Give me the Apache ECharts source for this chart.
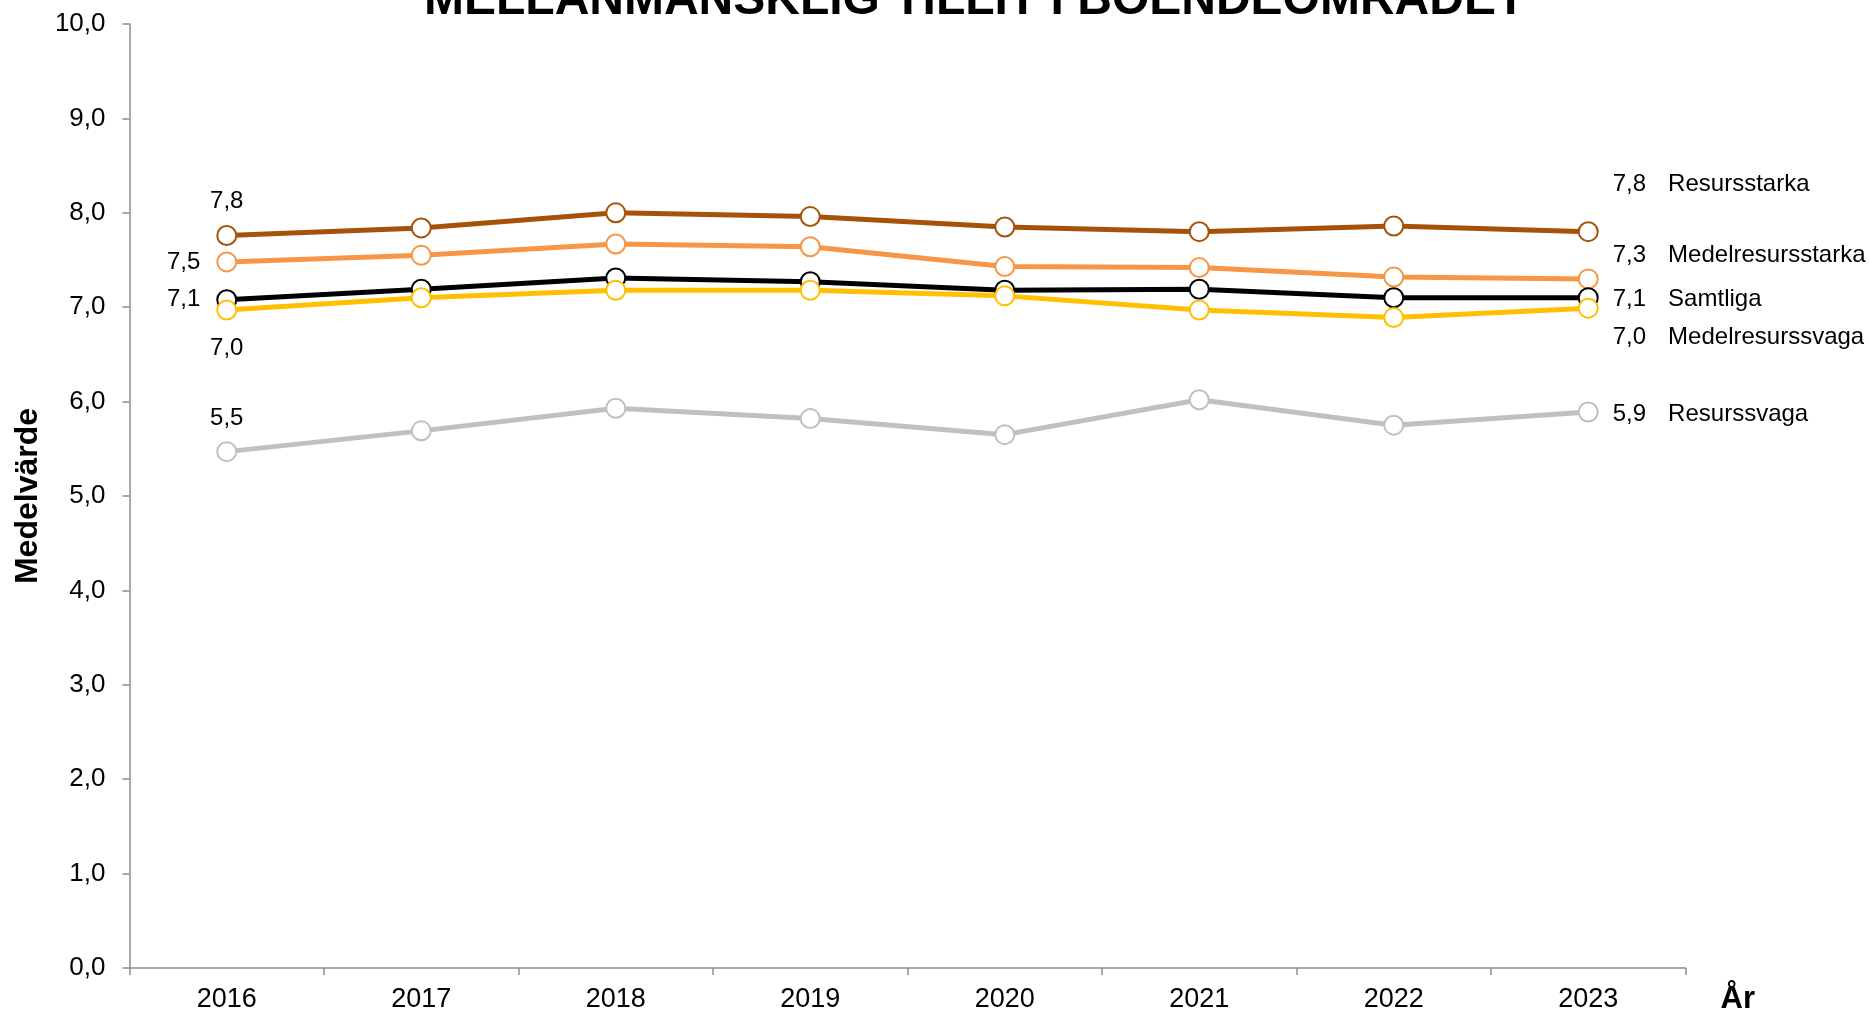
<!DOCTYPE html>
<html>
<head>
<meta charset="utf-8">
<script src="https://cdn.jsdelivr.net/npm/echarts@6/dist/echarts.min.js"></script>
<style>
  html, body { margin: 0; padding: 0; background: #fff; }
  #chart { width: 1869px; height: 1011px; }
</style>
</head>
<body>
<div id="chart"></div>
<script>
const years = ["2016", "2017", "2018", "2019", "2020", "2021", "2022", "2023"];
const yTicks = [0, 1, 2, 3, 4, 5, 6, 7, 8, 9, 10];

const resursstarka = [7.76, 7.84, 8.0, 7.96, 7.85, 7.8, 7.86, 7.8];
const medelresursstarka = [7.48, 7.55, 7.67, 7.64, 7.43, 7.42, 7.32, 7.3];
const samtliga = [7.08, 7.19, 7.31, 7.27, 7.18, 7.19, 7.1, 7.1];
const medelresurssvaga = [6.97, 7.1, 7.18, 7.18, 7.12, 6.97, 6.89, 6.99];
const resurssvaga = [5.47, 5.69, 5.93, 5.82, 5.65, 6.02, 5.75, 5.89];

const FONT = "'Liberation Sans', Arial, sans-serif";
const fmt = (v) => v.toFixed(1).replace(".", ",");

// name, values, colour, where the first label goes (and how far), vertical shift of end label
const seriesDefs = [
  { name: "Resursstarka", values: resursstarka, color: "#A65309", first: "top", firstDist: 12, endDy: -47 },
  { name: "Medelresursstarka", values: medelresursstarka, color: "#F79646", first: "left", firstDist: 16, endDy: -24 },
  { name: "Samtliga", values: samtliga, color: "#000000", first: "left", firstDist: 16, endDy: 2 },
  { name: "Medelresurssvaga", values: medelresurssvaga, color: "#FFC000", first: "bottom", firstDist: 16, endDy: 29 },
  { name: "Resurssvaga", values: resurssvaga, color: "#C0C0C0", first: "top", firstDist: 11, endDy: 2 },
];

const buildData = (def) => {
  const last = def.values.length - 1;
  return def.values.map((v, i) => {
    if (i === 0) {
      return {
        value: v,
        label: {
          show: true,
          position: def.first,
          distance: def.firstDist,
          formatter: fmt(v),
        },
      };
    }
    if (i === last) {
      return {
        value: v,
        label: {
          show: true,
          position: "right",
          distance: 14,
          offset: [0, def.endDy],
          formatter: "{v|" + fmt(v) + "}{n|" + def.name + "}",
          rich: {
            v: { fontSize: 24, fontFamily: FONT, color: "#000", padding: [0, 22, 0, 0] },
            n: { fontSize: 24, fontFamily: FONT, color: "#000" },
          },
        },
      };
    }
    return v;
  });
};

const chart = echarts.init(document.getElementById("chart"));

const option = {
  animation: false,
  backgroundColor: "#fff",
  title: {
    text: "MELLANMÄNSKLIG TILLIT I BOENDEOMRÅDET",
    left: 419,
    top: -28,
    textStyle: { fontFamily: FONT, fontSize: 48, fontWeight: "bold", color: "#000" },
  },
  grid: {
    left: 129.5,
    right: 183.5,
    top: 24,
    bottom: 43,
    containLabel: false,
    outerBoundsMode: "none",
  },
  xAxis: {
    type: "category",
    data: years,
    boundaryGap: true,
    name: "År",
    nameLocation: "end",
    nameGap: 35,
    nameTextStyle: {
      fontFamily: FONT,
      fontSize: 31,
      fontWeight: "bold",
      color: "#000",
      verticalAlign: "top",
      padding: [16, 0, 0, 0],
    },
    axisLine: { lineStyle: { color: "#8c8c8c", width: 1.5 } },
    axisTick: { show: true, length: 7, inside: false, lineStyle: { color: "#8c8c8c", width: 1.5 } },
    axisLabel: { fontFamily: FONT, fontSize: 27, color: "#000", margin: 18 },
    splitLine: { show: false },
  },
  yAxis: {
    type: "value",
    min: yTicks[0],
    max: yTicks[yTicks.length - 1],
    interval: 1,
    name: "Medelvärde",
    nameLocation: "middle",
    nameGap: 84,
    nameTextStyle: { fontFamily: FONT, fontSize: 32, fontWeight: "bold", color: "#000" },
    axisLine: { show: true, lineStyle: { color: "#8c8c8c", width: 1.5 } },
    axisTick: { show: true, length: 7, lineStyle: { color: "#8c8c8c", width: 1.5 } },
    axisLabel: { fontFamily: FONT, fontSize: 26, color: "#000", margin: 24, formatter: fmt },
    splitLine: { show: false },
  },
  series: seriesDefs.map((def) => ({
    name: def.name,
    type: "line",
    data: buildData(def),
    symbol: "circle",
    symbolSize: 19,
    showAllSymbol: true,
    lineStyle: { color: def.color, width: 5 },
    itemStyle: { color: "#fff", borderColor: def.color, borderWidth: 2 },
    label: { fontFamily: FONT, fontSize: 24, color: "#000" },
    emphasis: { disabled: true },
  })),
};

chart.setOption(option);
</script>
</body>
</html>
